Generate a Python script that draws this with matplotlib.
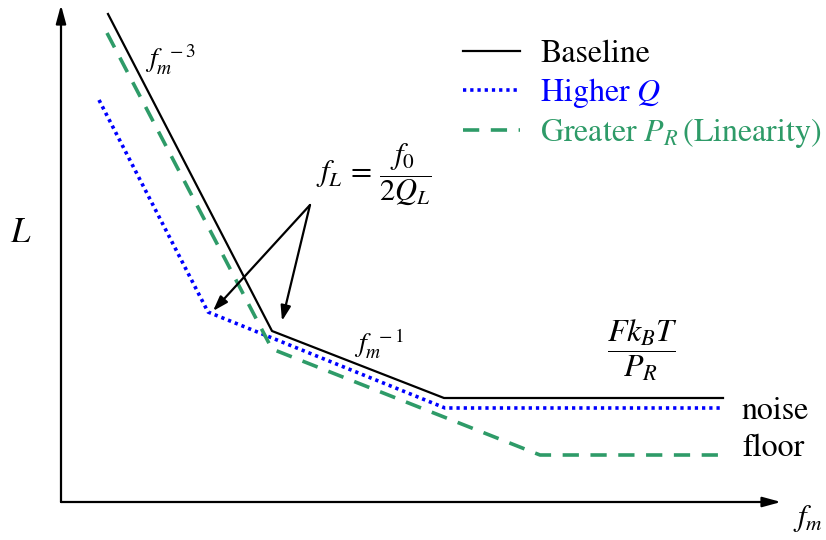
import matplotlib
matplotlib.use("Agg")
import matplotlib.pyplot as plt

# schematic phase-noise curve, breakpoints in arbitrary (log-like) units
baseline_x = [47, 211, 383, 662]
baseline_y = [488, 171, 104, 104]

higher_q_x = [38, 147, 384, 661]
higher_q_y = [402, 190, 94, 94]

greater_pr_x = [46, 211, 479, 657]
greater_pr_y = [469, 153, 47, 47]

labels = ["Baseline", r"Higher $Q$", r"Greater $P_R\,$(Linearity)"]
colors = ["black", "#0000ff", "#2e9b68"]

plt.rcParams["font.family"] = ["STIXGeneral", "DejaVu Serif"]
plt.rcParams["mathtext.fontset"] = "stix"

fig = plt.figure(figsize=(8.26, 5.40), dpi=100)
ax = fig.add_axes([0, 0, 1, 1])
ax.set_xlim(-61, 765)
ax.set_ylim(-38, 502)
ax.axis("off")

ax.plot(baseline_x, baseline_y, color=colors[0], lw=1.6, label=labels[0])
ax.plot(higher_q_x, higher_q_y, color=colors[1], lw=2.6, ls=(0, (0.9, 1.1)),
        label=labels[1])
ax.plot(greater_pr_x, greater_pr_y, color=colors[2], lw=2.6, ls=(0, (4.5, 3.2)),
        dash_joinstyle="round", dash_capstyle="butt", label=labels[2])

# axes drawn as arrows
arrow = dict(arrowstyle="-|>,head_length=1.1,head_width=0.3", lw=1.6,
             color="black", shrinkA=0, shrinkB=0)
ax.annotate("", xy=(0, 497), xytext=(0, 0), arrowprops=arrow)
ax.annotate("", xy=(720, 0), xytext=(0, 0), arrowprops=arrow)

ax.text(-40, 268, r"$L$", fontsize=25, ha="center", va="center")
ax.text(747, -17, r"$f_m$", fontsize=22, ha="center", va="center")

# slope labels
ax.text(84, 442, r"$f_m^{\ \,-3}$", fontsize=20, ha="left", va="center")
ax.text(293, 158, r"$f_m^{\ \,-1}$", fontsize=20, ha="left", va="center")

# corner frequency with pointers to both kinks
ax.text(255, 328, r"$f_L\,=\,\dfrac{f_0}{2Q_L}$", fontsize=22, ha="left", va="center")
pointer = dict(arrowstyle="-|>,head_length=0.9,head_width=0.3", lw=1.6,
               color="black", shrinkA=0, shrinkB=0)
ax.annotate("", xy=(152, 191), xytext=(249, 297), arrowprops=pointer)
ax.annotate("", xy=(221, 181), xytext=(249, 297), arrowprops=pointer)

# noise floor
ax.text(582, 152, r"$\dfrac{Fk_BT}{P_R}$", fontsize=23, ha="center", va="center")
ax.text(681, 91, "noise", fontsize=23, ha="left", va="center")
ax.text(681, 54, "floor", fontsize=23, ha="left", va="center")

leg = ax.legend(loc="upper left", bbox_to_anchor=(0.5605, 0.926), frameon=False,
                fontsize=23, handlelength=1.79, handletextpad=0.63,
                labelspacing=0.2, borderaxespad=0, borderpad=0)
for txt, c in zip(leg.get_texts(), colors):
    txt.set_color(c)

fig.savefig("out.png", dpi=100)
